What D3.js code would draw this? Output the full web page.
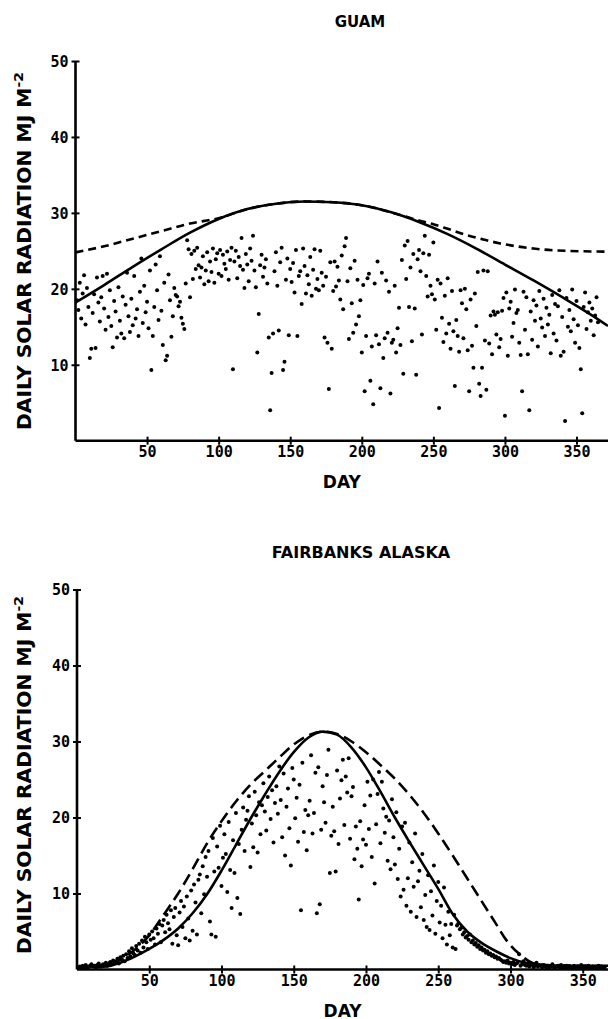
<!DOCTYPE html>
<html>
<head>
<meta charset="utf-8">
<script src="https://cdn.jsdelivr.net/npm/d3@7"></script>
<style>
body{margin:0;background:#fff}
svg{display:block}
text{font-family:"DejaVu Sans",sans-serif;fill:#000}
</style>
</head>
<body>
<script>
// tick values shared by both panels
var dayTicks = [50, 100, 150, 200, 250, 300, 350];
var radTicks = [10, 20, 30, 40, 50];

// GUAM - daily observed radiation, day 1..365 (MJ m-2)
var guamObs = [
 18.5,17.2,20.8,16.1,19.4,21.8,15.3,20.1,17.6,10.9,
 12.1,16.8,19.3,12.2,21.5,18.2,15.7,18.9,21.7,17.4,
 14.6,22.0,16.3,19.8,15.1,12.3,18.4,17.0,13.6,20.2,
 15.8,14.1,19.0,13.5,17.9,22.1,16.4,14.3,18.7,15.2,
 21.7,16.1,17.3,13.8,19.6,24.0,15.5,20.4,16.9,18.3,
 14.8,22.4,9.3,13.8,17.6,23.2,19.8,15.9,24.3,17.1,
 12.6,20.8,10.6,11.2,21.9,18.5,13.7,16.4,20.1,19.2,
 19.0,17.7,18.3,16.2,15.4,14.7,20.7,26.4,25.2,18.9,
 24.6,21.3,25.0,22.6,25.4,23.1,21.5,22.8,24.3,20.6,
 22.4,24.8,21.0,23.6,22.2,25.3,20.8,23.9,24.7,22.0,
 25.1,21.7,24.5,23.3,22.6,24.9,21.2,23.8,25.4,9.4,
 23.6,25.0,21.4,24.2,23.0,26.7,22.5,20.1,24.6,23.2,
 21.0,25.3,23.7,27.0,22.4,20.2,11.6,16.7,23.1,24.5,
 21.6,22.8,23.9,20.7,13.6,4.0,8.9,14.1,22.3,24.8,
 20.4,14.5,23.5,25.4,9.3,10.4,21.2,24.0,13.9,22.6,
 20.9,23.4,19.5,25.1,13.8,21.7,22.3,18.0,25.3,23.0,
 19.4,21.8,20.6,24.2,19.1,22.5,25.2,20.0,21.3,19.8,
 25.0,22.1,20.4,13.6,21.6,12.9,6.8,23.5,12.1,19.7,
 23.6,20.3,22.9,21.1,18.6,24.4,17.3,25.6,26.7,21.0,
 13.4,22.7,18.1,14.2,23.7,15.3,21.2,16.4,18.5,11.6,
 20.5,6.5,13.8,21.4,22.0,7.9,12.4,4.8,20.7,13.9,
 23.6,12.7,6.9,22.1,10.9,13.5,21.1,14.2,19.6,6.2,
 12.9,13.3,20.4,11.6,14.8,17.5,12.6,23.8,8.8,25.7,
 21.3,26.3,17.6,22.8,13.1,24.6,17.4,8.7,23.9,25.1,
 22.3,14.0,24.7,27.0,21.7,19.0,24.5,20.4,19.3,26.1,
 18.6,14.6,21.2,4.3,20.7,16.2,13.0,19.1,14.1,21.4,
 15.4,12.1,19.7,14.4,7.2,15.9,13.8,11.7,19.8,18.1,
 13.5,20.0,17.3,11.9,6.5,18.6,12.5,9.6,19.4,15.1,
 22.2,7.5,5.9,9.6,22.4,13.2,6.7,22.3,12.8,16.5,
 11.4,17.0,16.6,14.0,16.9,12.3,13.4,17.1,18.8,3.3,
 19.5,11.2,17.4,18.3,13.7,15.5,19.9,16.8,17.2,12.9,
 11.3,6.5,19.6,14.6,18.9,11.4,4.0,17.0,13.3,18.5,
 15.8,17.8,12.4,19.7,16.1,14.9,18.7,13.8,17.5,15.3,
 16.6,11.5,19.2,14.1,18.0,13.2,17.7,19.8,11.2,16.3,
 11.7,2.6,18.8,15.0,17.2,14.4,19.9,16.0,12.9,18.4,
 15.2,12.2,9.4,3.6,17.6,19.5,14.7,16.9,18.2,15.8,
 17.4,13.9,16.5,18.9,15.6
];
// GUAM - clear sky estimate (solid) and model (dashed)
var guamClearDay = [0, 20, 40, 60, 80, 100, 120, 140, 160, 180, 200, 220, 240, 260, 280, 300, 320, 340, 360, 372];
var guamClearVal = [18.2, 20.5, 22.9, 25.2, 27.4, 29.2, 30.5, 31.2, 31.5, 31.4, 31.0, 30.1, 28.8, 27.2, 25.3, 23.2, 21.1, 18.9, 16.6, 15.1];
var guamModelDay = [0, 20, 40, 60, 80, 100, 120, 140, 160, 180, 200, 220, 240, 250, 260, 273, 285, 296, 308, 320, 343, 372];
var guamModelVal = [24.8, 25.6, 26.6, 27.6, 28.6, 29.3, 30.5, 31.2, 31.5, 31.4, 31.0, 30.1, 29.0, 28.5, 27.9, 27.1, 26.5, 26.0, 25.6, 25.3, 25.0, 24.9];

// FAIRBANKS - daily observed radiation, day 1..365
var fairObs = [
 0.3,0.4,0.2,0.5,0.3,0.6,0.4,0.3,0.5,0.7,
 0.4,0.5,0.3,0.6,0.8,0.5,0.4,0.7,0.6,0.9,
 0.5,0.8,1.0,0.7,1.2,0.9,1.1,1.4,0.8,1.6,
 1.3,1.8,1.1,2.0,1.5,2.4,1.7,2.8,2.1,1.9,
 3.1,2.5,3.4,2.2,3.8,2.9,4.3,3.6,2.7,4.6,
 3.9,5.0,4.1,3.3,5.4,4.7,6.0,3.6,5.8,6.5,
 4.9,7.2,6.1,5.3,7.8,3.4,6.9,8.1,4.5,3.2,
 7.5,9.0,5.6,8.3,4.1,9.6,6.7,3.8,10.4,5.1,
 11.2,8.8,4.6,11.8,12.5,7.4,13.6,9.9,14.8,12.2,
 15.6,6.3,4.6,17.3,12.9,4.3,16.2,13.4,18.9,11.0,
 14.7,17.8,15.2,10.2,19.4,13.1,8.1,17.0,12.7,20.6,
 9.4,16.5,7.3,18.4,21.3,15.6,19.7,20.9,22.8,13.5,
 19.2,16.1,23.4,20.3,15.4,22.0,17.8,21.6,24.5,20.8,
 18.3,22.7,25.4,19.8,23.6,16.7,21.9,24.1,20.5,26.7,
 22.3,17.4,25.8,15.0,21.4,23.8,18.6,13.7,26.5,25.0,
 19.9,22.6,16.8,24.3,7.8,27.2,18.1,21.0,15.7,20.3,
 22.2,28.2,17.9,20.6,25.9,7.4,26.6,8.6,18.4,24.1,
 22.0,19.3,25.6,28.9,12.7,17.6,21.4,18.2,12.9,26.2,
 16.5,22.5,24.9,27.6,19.0,25.4,23.3,27.8,17.2,22.8,
 24.0,14.5,18.8,15.9,9.2,19.5,13.6,17.1,21.6,16.4,
 24.7,18.5,22.9,14.8,25.0,11.3,19.1,23.1,26.0,16.6,
 24.7,21.2,18.0,20.1,14.3,19.6,13.2,22.4,17.4,13.8,
 20.7,11.9,15.9,9.6,18.8,10.5,19.3,8.4,12.0,16.7,
 7.6,14.1,10.9,17.9,6.9,11.6,13.0,8.2,15.2,6.5,
 9.8,5.6,12.4,5.2,10.3,7.1,13.7,4.7,9.0,11.5,
 6.2,8.4,4.1,10.8,5.9,3.3,7.6,4.5,6.0,2.9,
 7.2,2.7,5.8,6.1,5.3,5.5,4.6,4.9,4.2,4.4,
 3.9,4.6,3.6,3.8,3.3,3.5,3.0,3.2,2.7,2.9,
 2.5,2.6,2.2,2.4,2.0,2.1,1.8,1.9,1.6,1.7,
 1.4,1.5,1.3,1.2,1.0,1.1,0.9,1.2,0.8,0.9,
 0.7,1.0,0.6,0.8,0.9,2.0,0.5,0.7,1.1,0.6,
 0.5,0.8,0.4,0.6,0.7,0.3,0.5,0.9,0.4,0.6,
 0.5,0.3,0.6,0.4,0.2,0.5,0.3,0.4,0.7,0.3,
 0.2,0.4,0.5,0.3,0.6,0.2,0.4,0.3,0.5,0.2,
 0.4,0.3,0.2,0.5,0.3,0.4,0.2,0.3,0.6,0.2,
 0.3,0.4,0.2,0.5,0.3,0.2,0.4,0.3,0.2,0.3,
 0.5,0.2,0.4,0.3,0.2
];
var fairClearDay = [0, 20, 30, 40, 50, 60, 70, 80, 90, 100, 110, 120, 130, 140, 150, 160, 170, 180, 190, 200, 210, 220, 230, 240, 250, 260, 270, 280, 290, 300, 310, 320, 340, 368];
var fairClearVal = [0.4, 0.4, 0.9, 1.7, 2.7, 3.9, 5.4, 7.4, 9.9, 13.0, 16.4, 19.8, 23.0, 26.0, 28.6, 30.5, 31.3, 30.9, 29.2, 26.6, 23.4, 20.0, 16.8, 13.7, 10.6, 7.3, 5.0, 3.5, 2.4, 1.5, 0.9, 0.6, 0.5, 0.5];
var fairModelDay = [0, 15, 25, 38, 50, 60, 70, 80, 90, 100, 110, 120, 130, 140, 150, 160, 170, 180, 190, 200, 210, 220, 230, 240, 250, 260, 270, 280, 290, 297, 307, 315, 325, 345, 368];
var fairModelVal = [0.2, 0.3, 0.8, 2.3, 4.5, 7.2, 10.0, 13.2, 16.6, 19.5, 22.1, 24.3, 26.1, 27.9, 29.6, 30.8, 31.3, 31.0, 30.0, 28.6, 26.9, 25.1, 23.0, 20.6, 17.9, 15.0, 12.0, 9.0, 6.0, 3.9, 1.9, 0.9, 0.6, 0.5, 0.4];

var svg = d3.select("body").append("svg")
  .attr("width", 608)
  .attr("height", 1019);

function panel(p){
  var x = d3.scaleLinear().domain([0, p.dayMax]).range([p.left, 608]);
  var y = d3.scaleLinear().domain([0, 50]).range([p.bottom, p.top]);
  var g = svg.append("g");

  // x axis
  var xa = g.append("g")
    .attr("transform", "translate(0," + p.bottom + ")")
    .call(d3.axisBottom(x).tickValues(dayTicks).tickSize(4).tickFormat(d3.format("d")));
  xa.select(".domain").remove();
  xa.selectAll(".tick line").attr("y1", -4).attr("y2", 4).attr("stroke", "#000").attr("stroke-width", 2);
  xa.selectAll(".tick text")
    .attr("y", 11).attr("dy", "0.36em")
    .style("font-family", "'DejaVu Sans Mono', monospace")
    .style("font-weight", "bold").style("font-size", "15px").style("fill", "#000");
  g.append("line")
    .attr("x1", x(0)).attr("x2", 608)
    .attr("y1", p.bottom).attr("y2", p.bottom)
    .attr("stroke", "#000").attr("stroke-width", 2.6);

  // y axis
  var ya = g.append("g")
    .attr("transform", "translate(" + p.left + ",0)")
    .call(d3.axisLeft(y).tickValues(radTicks).tickSize(4).tickFormat(d3.format("d")));
  ya.select(".domain").remove();
  ya.selectAll(".tick line").attr("x1", -4).attr("x2", 4).attr("stroke", "#000").attr("stroke-width", 2);
  ya.selectAll(".tick text")
    .attr("x", -7).attr("dy", "0.36em")
    .style("font-family", "'DejaVu Sans Mono', monospace")
    .style("font-weight", "bold").style("font-size", "15px").style("fill", "#000");
  g.append("line")
    .attr("x1", p.left).attr("x2", p.left)
    .attr("y1", y(0)).attr("y2", y(50))
    .attr("stroke", "#000").attr("stroke-width", 2.6);

  // axis titles
  g.append("text")
    .attr("x", (p.left + 608) / 2).attr("y", p.bottom + 47)
    .attr("text-anchor", "middle")
    .style("font-weight", "bold").style("font-size", "17px")
    .text("DAY");

  var yt = g.append("text")
    .attr("transform", "translate(31," + p.ytitleY + ") rotate(-90)")
    .attr("text-anchor", "middle")
    .attr("textLength", 358).attr("lengthAdjust", "spacingAndGlyphs")
    .style("font-weight", "bold").style("font-size", "19px");
  yt.append("tspan").text("DAILY SOLAR RADIATION MJ M");
  yt.append("tspan").attr("dy", -8).style("font-size", "13px").text("-2");

  g.append("text")
    .attr("x", p.titleX).attr("y", p.titleY)
    .attr("text-anchor", "middle")
    .style("font-weight", "bold").style("font-size", p.titleSize + "px")
    .text(p.title);

  // observations
  g.append("g").selectAll("circle")
    .data(p.obs)
    .join("circle")
    .attr("cx", function(d, i){ return x(i + 1); })
    .attr("cy", function(d){ return y(d); })
    .attr("r", 2)
    .attr("fill", "#000");

  var line = d3.line()
    .x(function(d){ return x(d[0]); })
    .y(function(d){ return y(d[1]); })
    .curve(d3.curveMonotoneX);

  g.append("path")
    .datum(d3.zip(p.clearDay, p.clearVal))
    .attr("d", line)
    .attr("fill", "none").attr("stroke", "#000").attr("stroke-width", 2.6);

  g.append("path")
    .datum(d3.zip(p.modelDay, p.modelVal))
    .attr("d", line)
    .attr("fill", "none").attr("stroke", "#000").attr("stroke-width", 2.6)
    .attr("stroke-dasharray", p.dash);
}

panel({
  title: "GUAM", titleX: 360, titleY: 27, titleSize: 15,
  left: 75.5, dayMax: 372, top: 61, bottom: 440.7, ytitleY: 251,
  obs: guamObs,
  clearDay: guamClearDay, clearVal: guamClearVal,
  modelDay: guamModelDay, modelVal: guamModelVal,
  dash: "8,5"
});

panel({
  title: "FAIRBANKS ALASKA", titleX: 361, titleY: 558, titleSize: 16,
  left: 77, dayMax: 367.5, top: 589.5, bottom: 969.5, ytitleY: 775,
  obs: fairObs,
  clearDay: fairClearDay, clearVal: fairClearVal,
  modelDay: fairModelDay, modelVal: fairModelVal,
  dash: "12,6"
});
</script>
</body>
</html>
